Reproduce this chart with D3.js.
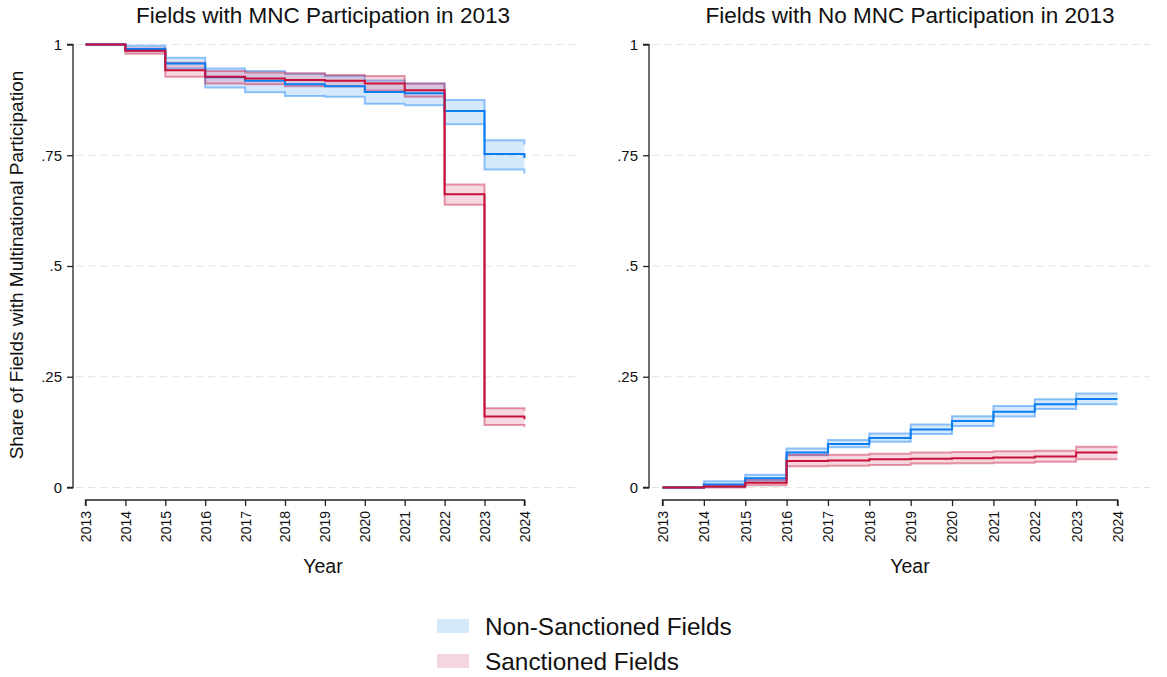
<!DOCTYPE html>
<html>
<head>
<meta charset="utf-8">
<script src="https://cdn.jsdelivr.net/npm/d3@7/dist/d3.min.js"></script>
<style>
  body { margin: 0; background: #fff; }
  svg { display: block; font-family: Arial, "Liberation Sans", sans-serif; }
</style>
</head>
<body>
<svg id="chart" width="1167" height="677"></svg>
<script>
// ---- Data ----
const years = [2013, 2014, 2015, 2016, 2017, 2018, 2019, 2020, 2021, 2022, 2023, 2024];
const yTickValues = [0, 0.25, 0.5, 0.75, 1];
const yTickLabels = ["0", ".25", ".5", ".75", "1"];
const panelTitles = ["Fields with MNC Participation in 2013", "Fields with No MNC Participation in 2013"];
const seriesNames = ["Non-Sanctioned Fields", "Sanctioned Fields"];

// Left panel: fields with MNC participation in 2013
const nonSancMnc   = [1, 0.990, 0.957, 0.926, 0.918, 0.910, 0.906, 0.893, 0.890, 0.850, 0.753, 0.744];
const nonSancMncLo = [1, 0.985, 0.946, 0.903, 0.892, 0.884, 0.882, 0.866, 0.863, 0.820, 0.718, 0.708];
const nonSancMncHi = [1, 0.997, 0.970, 0.946, 0.940, 0.934, 0.929, 0.919, 0.912, 0.875, 0.784, 0.774];
const sancMnc      = [1, 0.986, 0.942, 0.927, 0.923, 0.920, 0.918, 0.912, 0.897, 0.662, 0.160, 0.154];
const sancMncLo    = [1, 0.979, 0.927, 0.912, 0.910, 0.906, 0.906, 0.896, 0.882, 0.638, 0.141, 0.136];
const sancMncHi    = [1, 0.991, 0.959, 0.940, 0.937, 0.935, 0.931, 0.929, 0.912, 0.684, 0.179, 0.173];

// Right panel: fields with no MNC participation in 2013
const nonSancNo    = [0, 0.007, 0.021, 0.079, 0.098, 0.112, 0.131, 0.150, 0.171, 0.188, 0.200, 0.200];
const nonSancNoLo  = [0, 0.001, 0.015, 0.073, 0.091, 0.103, 0.121, 0.139, 0.160, 0.177, 0.188, 0.188];
const nonSancNoHi  = [0, 0.014, 0.029, 0.088, 0.107, 0.122, 0.142, 0.161, 0.184, 0.199, 0.212, 0.212];
const sancNo       = [0, 0.002, 0.011, 0.060, 0.061, 0.064, 0.065, 0.066, 0.068, 0.070, 0.079, 0.079];
const sancNoLo     = [0, 0.000, 0.005, 0.048, 0.049, 0.051, 0.054, 0.055, 0.056, 0.058, 0.064, 0.064];
const sancNoHi     = [0, 0.006, 0.018, 0.074, 0.074, 0.076, 0.079, 0.080, 0.082, 0.083, 0.092, 0.092];

// ---- Styles ----
const blue = { line: "#0a7ef2", edge: "rgba(40,140,245,0.5)", fill: "rgba(120,180,245,0.30)", swatch: "#d6e8fc" };
const red  = { line: "#c8103a", edge: "rgba(200,30,70,0.45)", fill: "rgba(215,60,100,0.20)", swatch: "#f4d6de" };
const FONT = "Arial, 'Liberation Sans', sans-serif";

const svg = d3.select("#chart");

const panels = [
  { title: panelTitles[0], xr: [85.5, 524.4], axisX: 73, gridEnd: 575, titleX: 323,
    series: [
      { v: nonSancMnc, lo: nonSancMncLo, hi: nonSancMncHi, c: blue },
      { v: sancMnc, lo: sancMncLo, hi: sancMncHi, c: red } ] },
  { title: panelTitles[1], xr: [662.5, 1117.5], axisX: 649, gridEnd: 1150, titleX: 910,
    series: [
      { v: nonSancNo, lo: nonSancNoLo, hi: nonSancNoHi, c: blue },
      { v: sancNo, lo: sancNoLo, hi: sancNoHi, c: red } ] }
];

const y = d3.scaleLinear().domain([0, 1]).range([487.5, 44.5]);

panels.forEach((p, pi) => {
  const x = d3.scaleLinear().domain([2013, 2024]).range(p.xr);
  const g = svg.append("g");

  // gridlines
  g.selectAll("line.grid").data(yTickValues).join("line")
    .attr("x1", p.axisX + 3).attr("x2", p.gridEnd)
    .attr("y1", d => y(d)).attr("y2", d => y(d))
    .attr("stroke", "#e3e3e3").attr("stroke-width", 1.2)
    .attr("stroke-dasharray", "7,5");

  // y axis
  const yAxis = d3.axisLeft(y).tickValues(yTickValues)
    .tickFormat((d, i) => yTickLabels[i]).tickSize(6).tickPadding(5);
  const ya = g.append("g").attr("transform", `translate(${p.axisX},0)`).call(yAxis);
  ya.select(".domain").attr("stroke", "#222").attr("stroke-width", 1.3).attr("d", `M-6,${y(1)}H0V${y(0)}H-6`);
  ya.selectAll(".tick line").attr("stroke", "#222").attr("stroke-width", 1.3);
  ya.selectAll(".tick text").attr("font-size", 15).attr("fill", "#111").attr("font-family", FONT);

  // x axis
  const xAxis = d3.axisBottom(x).tickValues(years).tickFormat(d3.format("d")).tickSize(6).tickPadding(4);
  const xa = g.append("g").attr("transform", "translate(0,500)").call(xAxis);
  xa.select(".domain").attr("stroke", "#222").attr("stroke-width", 1.3).attr("d", `M${p.xr[0]},6V0H${p.xr[1]}V6`);
  xa.selectAll(".tick line").attr("stroke", "#222").attr("stroke-width", 1.3);
  xa.selectAll(".tick text")
    .attr("font-size", 14).attr("fill", "#111").attr("font-family", FONT)
    .attr("text-anchor", "end").attr("dy", "0.35em")
    .attr("transform", "translate(0,4) rotate(-90)").attr("x", -7).attr("y", 0);

  // series
  p.series.forEach(s => {
    const pts = years.map((yr, i) => ({ x: yr, v: s.v[i], lo: s.lo[i], hi: s.hi[i] }));
    const area = d3.area().curve(d3.curveStepAfter).x(d => x(d.x)).y0(d => y(d.lo)).y1(d => y(d.hi));
    g.append("path").datum(pts).attr("d", area).attr("fill", s.c.fill);
    ["lo", "hi"].forEach(k => {
      const ln = d3.line().curve(d3.curveStepAfter).x(d => x(d.x)).y(d => y(d[k]));
      g.append("path").datum(pts).attr("d", ln).attr("fill", "none")
        .attr("stroke", s.c.edge).attr("stroke-width", 2);
    });
  });
  p.series.forEach(s => {
    const pts = years.map((yr, i) => ({ x: yr, v: s.v[i] }));
    const ln = d3.line().curve(d3.curveStepAfter).x(d => x(d.x)).y(d => y(d.v));
    g.append("path").datum(pts).attr("d", ln).attr("fill", "none")
      .attr("stroke", s.c.line).attr("stroke-width", 2);
  });

  // title
  g.append("text").attr("x", p.titleX).attr("y", 23).attr("text-anchor", "middle")
    .attr("font-size", 22.5).attr("fill", "#111").text(p.title);
  // x title
  g.append("text").attr("x", p.titleX).attr("y", 573).attr("text-anchor", "middle")
    .attr("font-size", 19.5).attr("fill", "#111").text("Year");
});

// y axis title
svg.append("text").attr("transform", "translate(23,265) rotate(-90)").attr("text-anchor", "middle")
  .attr("font-size", 19).attr("fill", "#111").text("Share of Fields with Multinational Participation");

// legend
const legend = svg.append("g");
[blue, red].forEach((c, i) => {
  const yy = 619 + i * 35;
  legend.append("rect").attr("x", 437).attr("y", yy).attr("width", 32).attr("height", 14).attr("fill", c.swatch);
  legend.append("text").attr("x", 485).attr("y", yy + 7).attr("dy", "0.35em")
    .attr("font-size", 24.4).attr("fill", "#111").text(seriesNames[i]);
});
</script>
</body>
</html>
